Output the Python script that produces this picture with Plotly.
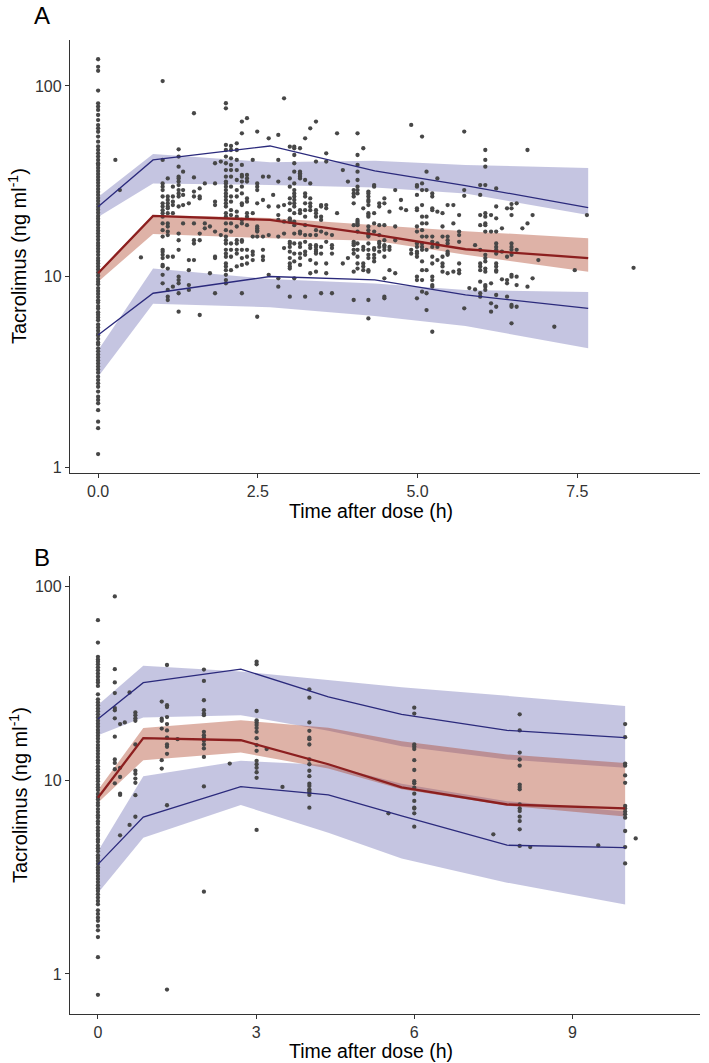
import plotly.graph_objects as go

# ---------------- Panel A: VPC summary ----------------
a_bin_time = [0, 0.86, 2.69, 4.33, 5.75, 7.67]
a_p95 = [23.2, 40.9, 48.4, 35.8, 30.0, 23.0]
a_p50 = [10.4, 20.8, 19.8, 16.6, 13.9, 12.5]
a_p05 = [4.93, 8.17, 10.0, 9.6, 8.0, 6.8]
a_p95_ci_lo = [20.5, 30.8, 30.2, 29.3, 27.3, 21.0]
a_p95_ci_hi = [26.1, 44.0, 39.8, 40.5, 38.5, 37.1]
a_p50_ci_lo = [9.4, 16.7, 15.9, 15.4, 13.0, 10.6]
a_p50_ci_hi = [10.6, 21.0, 20.3, 18.6, 17.3, 15.9]
a_p05_ci_lo = [2.98, 7.2, 6.9, 6.2, 5.5, 4.2]
a_p05_ci_hi = [4.1, 11.0, 9.7, 9.2, 8.5, 8.3]

# Panel A observations, grouped by sampling time
a_obs_time = [0, 0.27, 0.34, 0.67, 1.01, 1.09, 1.17, 1.26, 1.33, 1.42, 1.5, 1.59, 1.67, 1.75,
              1.83, 1.92, 2.0, 2.08, 2.17, 2.25, 2.33, 2.42, 2.49, 2.58, 2.67, 2.74, 2.82,
              2.91, 3.0, 3.07, 3.16, 3.24, 3.32, 3.41, 3.49, 3.57, 3.66, 3.74, 3.83, 3.91,
              4.0, 4.06, 4.15, 4.23, 4.32, 4.4, 4.48, 4.56, 4.65, 4.74, 4.82, 4.9, 4.99,
              5.07, 5.14, 5.23, 5.31, 5.39, 5.47, 5.56, 5.65, 5.73, 5.81, 5.9, 5.98, 6.06,
              6.15, 6.23, 6.32, 6.4, 6.47, 6.55, 6.64, 6.72, 6.8, 6.89, 7.14, 7.46, 7.65, 8.38]
a_obs_conc = [
    [138, 126, 120, 94.5, 81, 77.9, 74.8, 70.4, 66.2, 62.3, 59.9, 57.5, 54.2, 51, 48.1, 46.1,
     44.3, 42.6, 40.9, 39.3,
     38.5, 37.1, 35.8, 34.5, 33.3, 32.1, 31.0, 29.9, 28.8, 27.8, 26.8, 25.8, 24.9, 24.0, 23.2,
     22.4, 21.6, 20.8, 20.1, 19.4, 18.7, 18.0, 17.4, 16.8, 16.2, 15.6, 15.0, 14.5, 14.0, 13.5,
     13.0, 12.5, 12.1, 11.7, 11.3, 10.9, 10.5, 10.1, 9.7, 9.4, 9.1, 8.7, 8.4, 8.1, 7.8, 7.5,
     7.3, 7.0, 6.8, 6.5, 6.3, 6.1, 5.9, 5.6, 5.4, 5.2, 5.0, 4.9, 4.7, 4.5, 4.4, 4.2, 4.05,
     3.9, 3.76, 3.63, 3.5, 3.37, 3.25, 3.13,
     2.98, 2.86, 2.75, 2.64, 2.49, 2.34, 2.25, 2.16, 1.99, 1.73, 1.6, 1.17],
    [40.9],
    [28.4],
    [12.6],
    [106, 40.9, 30.8, 29.6, 28.4, 26.3, 24.2, 23.3, 22.3, 21.5, 20.6, 19.0, 17.5, 16.2, 13.8,
     13.5, 13.0, 12.5, 11.5, 11.3, 10.2, 9.21],
    [32.7, 26.3, 25.2, 24.2, 23.3, 22.8, 21.5, 19.0, 18.3, 17.2, 16.5, 12.7, 11.0, 8.50, 7.84, 7.53],
    [29.6, 26.3, 24.7, 23.7, 21.5, 12.7, 8.84],
    [46.5, 42.6, 37.7, 33.4, 32.7, 31.5, 30.2, 28.4, 27.3, 26.3, 23.3, 16.8, 15.5, 13.8, 9.98,
     9.58, 9.21, 8.17, 6.54],
    [35.5, 28.4, 26.8, 23.7, 19.0],
    [24.2, 12.2, 10.8, 9.02, 8.50],
    [71.9, 33.1, 27.9, 26.3, 19.0, 15.5, 14.9, 12.2],
    [29.0, 26.3, 25.7, 16.8, 15.5, 6.28],
    [30.8, 19.0, 17.9],
    [18.3, 10.4],
    [39.3, 30.8, 24.7, 23.7, 17.2, 12.7, 12.5, 8.17],
    [40.1, 16.5],
    [81.1, 76.3, 49.0, 46.1, 42.6, 39.3, 36.2, 33.4, 31.5, 30.8, 29.6, 28.4, 27.3, 26.3, 25.2,
     24.2, 23.3, 21.5, 20.6, 19.0, 17.5, 16.2, 15.5, 14.9, 13.8, 13.2, 12.7, 11.7, 11.3, 10.8,
     10.2, 9.58, 9.21],
    [48.4, 46.1, 41.7, 38.5, 36.2, 33.4, 29.6, 26.3, 24.7, 22.3, 21.0, 19.0, 17.2, 14.9, 13.8,
     12.7, 10.8],
    [50.0, 46.1, 40.9, 36.2, 32.1, 28.4, 26.3, 21.9, 20.6, 18.3, 15.5, 14.9, 13.8, 13.2, 11.3],
    [65.0, 56.4, 38.5, 34.1, 33.4, 31.5, 29.6, 27.3, 24.2, 23.7, 19.8, 19.0, 15.5, 15.2, 13.8,
     12.5, 11.5, 8.17],
    [67.7, 34.1, 32.7, 31.5, 25.7, 24.7, 21.5, 20.6, 18.6, 13.8, 12.7, 11.7],
    [40.9, 21.5, 16.2, 13.5, 13.0, 12.2],
    [57.6, 30.8, 29.6, 28.4, 24.2, 18.3, 17.9, 17.5, 17.2, 16.2, 6.15],
    [33.4, 25.2, 16.2, 13.8, 12.7, 12.2],
    [53.1, 33.4, 23.3, 16.5, 10.2],
    [26.8],
    [55.3, 40.9, 31.5, 23.3, 21.0, 19.8, 16.2, 9.78, 8.84],
    [86.1, 23.7, 19.4, 16.8, 14.1],
    [48.0, 32.7, 29.6, 25.7, 24.2, 22.3, 20.2, 19.8, 19.4, 15.2, 14.9, 14.3, 13.5, 12.5, 11.7,
     11.3, 11.0, 7.84],
    [48.0, 47.1, 43.4, 39.3, 35.5, 30.8, 28.4, 27.3, 26.3, 25.2, 24.2, 23.3, 21.5, 19.4, 18.6,
     16.8, 14.9, 13.2, 12.0, 9.78],
    [47.1, 35.5, 34.8, 34.1, 33.4, 32.7, 22.3, 21.5, 17.2, 16.8, 14.9, 14.3, 13.2, 12.5, 11.5],
    [53.1, 32.1, 27.3, 26.3, 24.2, 22.3, 20.6, 18.6, 16.5, 15.2, 13.5, 13.0, 7.84],
    [59.9, 30.8, 25.7, 24.2, 23.3, 22.3, 16.5, 14.6, 14.1, 12.2, 10.4],
    [65.0, 40.1, 22.3, 21.5, 20.6, 17.5, 16.5, 14.6, 14.3, 13.8, 13.5, 13.2, 11.7, 10.6],
    [23.7, 23.3, 20.6, 19.8, 17.2, 14.3, 13.2, 8.17],
    [44.3, 40.1, 23.7, 22.8, 16.8, 15.2, 11.7, 10.4],
    [16.5, 14.6, 14.1, 13.2, 8.17],
    [56.4, 21.5],
    [36.2, 11.7],
    [31.5, 12.5],
    [28.4, 27.3, 26.3, 24.2, 18.6, 15.2, 14.9, 14.6, 13.8, 13.2, 10.6, 7.53],
    [56.4, 43.4, 38.5, 35.5, 32.1, 29.6, 28.4, 27.3, 19.8, 19.4, 19.0, 18.6, 17.2, 14.9, 13.8,
     12.7, 11.7, 11.0],
    [47.1, 22.8, 14.3, 13.8, 11.7, 11.3, 10.8],
    [27.9, 27.3, 26.3, 25.2, 24.7, 23.7, 21.5, 21.0, 20.6, 18.3, 17.5, 16.8, 16.5, 16.2, 14.9,
     13.8, 13.0, 12.5, 10.8, 10.6, 7.53, 6.03],
    [30.2, 29.6, 21.5, 19.0, 17.2, 14.1, 13.8, 13.0, 12.5, 12.0],
    [24.2, 23.3, 18.6, 16.5, 15.2, 14.9, 14.3, 13.5],
    [25.7, 24.2, 18.6, 15.5, 14.6, 14.3, 13.8, 12.7, 9.78, 7.84, 7.68],
    [21.9, 14.3, 13.8, 10.8],
    [28.4, 18.3, 15.5, 10.4],
    [25.2, 22.8],
    [22.3],
    [62.4, 13.8, 13.2],
    [30.2, 29.6, 26.8, 22.8, 22.3, 18.3, 17.2, 14.9, 14.3, 13.5, 13.2, 12.7, 9.98, 9.58, 7.68],
    [54.2, 30.8, 28.4, 23.7, 20.6, 19.0, 17.5, 16.2, 14.9, 14.3, 13.8, 12.0, 10.8, 9.58, 8.33],
    [35.5, 28.4, 20.6, 19.0, 16.2, 13.8, 10.8, 8.17, 6.67],
    [27.3, 26.3, 22.8, 22.3, 16.2, 15.2, 14.3, 12.7, 11.7, 9.98, 9.58, 9.02, 8.84, 5.13],
    [32.7, 21.9, 14.9, 14.3, 12.2],
    [21.5, 18.3, 16.2, 12.7, 11.7, 11.3, 10.6],
    [23.7, 16.2, 15.5, 14.9, 13.5, 13.2, 13.0, 10.4],
    [23.7, 19.0, 10.6],
    [21.0, 17.2, 16.5, 15.2, 11.7, 10.8, 10.4],
    [57.6, 28.4, 26.5, 6.81],
    [8.7],
    [14.6, 8.56],
    [30.2, 26.8, 21.0, 18.6, 13.8, 11.7, 11.3, 10.8, 9.39, 8.17, 7.84],
    [46.1, 40.9, 37.7, 30.2, 21.5, 20.6, 19.0, 18.6, 17.2, 13.0, 12.5, 12.0, 11.0, 10.6, 9.02,
     8.84, 8.50],
    [21.0, 17.2, 9.21, 7.23, 6.54],
    [29.0, 23.3, 20.2, 17.2, 14.9, 14.3, 13.8, 13.2, 11.7, 11.3, 10.8, 10.6, 8.00, 6.94],
    [17.9, 13.5, 9.66],
    [22.8, 12.7, 9.58, 9.21, 7.84],
    [24.0, 22.8, 21.0, 14.9, 14.3, 13.8, 13.0, 10.2, 9.98, 7.09, 6.94, 5.68],
    [24.2, 13.8, 9.98, 9.02, 6.94],
    [17.9],
    [46.1, 19.0, 8.84],
    [21.0, 9.78],
    [12.2],
    [5.45],
    [10.8],
    [21.0],
    [11.1],
]

# ---------------- Panel B: VPC summary ----------------
b_bin_time = [0, 0.86, 2.71, 4.37, 5.76, 7.76, 10.0]
b_p95 = [20.7, 31.9, 37.5, 27.0, 21.9, 18.1, 16.6]
b_p50 = [8.13, 16.5, 16.1, 12.1, 9.2, 7.5, 7.16]
b_p05 = [3.68, 6.46, 9.27, 8.4, 6.55, 4.62, 4.49]
b_p95_ci_lo = [17.1, 21.1, 21.7, 18.0, 15.0, 12.8, 11.6]
b_p95_ci_hi = [24.5, 39.0, 36.5, 33.0, 30.2, 27.3, 24.2]
b_p50_ci_lo = [7.66, 12.7, 13.9, 11.5, 9.0, 7.4, 6.5]
b_p50_ci_hi = [8.9, 18.6, 20.4, 18.7, 15.9, 13.6, 12.3]
b_p05_ci_lo = [2.62, 5.05, 7.45, 5.36, 3.95, 2.96, 2.28]
b_p05_ci_hi = [4.3, 10.5, 12.6, 12.0, 9.6, 7.8, 6.9]

b_obs_time = [0, 0.32, 0.42, 0.51, 0.6, 0.71, 1.21, 1.31, 1.51, 2.01, 2.5, 3.01, 3.2, 3.5,
              4.01, 5.51, 6.0, 7.5, 8.0, 8.2, 9.49, 10.0, 10.2]
b_obs_conc = [
    [67.1, 51.4, 43.4, 42.0, 41.0, 39.7, 38.3, 37.0, 35.6, 34.3, 33.0, 32.0, 30.7, 27.8,
     26.2, 25.3, 24.4, 23.5, 22.7, 21.9, 21.1, 20.3, 19.6, 18.9, 18.2, 17.6, 17.0, 16.4, 15.8,
     15.2, 14.7, 14.2, 13.7, 13.2, 12.7, 12.3, 11.8, 11.4, 11.0, 10.6, 10.2, 9.9, 9.5, 9.2,
     8.9, 8.5, 8.2, 7.95, 7.65, 7.4, 7.1, 6.85, 6.6, 6.4, 6.15, 5.95, 5.7, 5.5, 5.3, 5.15,
     4.95, 4.8, 4.6, 4.45, 4.3, 4.1, 3.97, 3.83, 3.7, 3.56, 3.44, 3.32, 3.2, 3.09, 2.98,
     2.87, 2.77, 2.68,
     2.58, 2.48, 2.38, 2.29, 2.13, 2.04, 1.95, 1.88, 1.77, 1.68, 1.55, 1.22, 0.78],
    [89, 37.5, 32.0, 28.2, 23.6, 23.0, 20.9, 16.8, 12.8, 12.3, 11.4, 9.65],
    [19.5, 11.6, 10.4, 8.53, 8.40, 5.20],
    [19.9],
    [28.4, 5.88],
    [22.4, 21.7, 20.9, 20.3, 15.3, 11.2, 10.8, 10.2, 9.7, 8.38, 6.48],
    [25.5, 20.8, 20.3, 18.5, 12.7, 11.5],
    [39.4, 24.4, 23.9, 21.2, 19.5, 18.1, 16.6, 15.3, 14.9, 13.7, 7.43, 0.83],
    [16.3],
    [37.3, 32.6, 25.9, 23.0, 22.1, 21.7, 17.8, 17.1, 16.6, 16.0, 15.3, 14.6, 13.2, 9.3, 2.66],
    [12.2],
    [41.0, 39.7, 22.8, 20.4, 19.9, 19.3, 18.6, 17.8, 16.5, 15.2, 14.2, 12.6, 12.1, 11.6, 11.0,
     10.3, 5.54],
    [14.5],
    [9.24],
    [29.5, 26.7, 19.9, 18.0, 16.6, 16.3, 15.3, 12.8, 12.1, 11.2, 10.5, 9.6, 9.35, 8.98, 8.81,
     8.64, 8.40, 7.22],
    [6.75],
    [23.7, 22.1, 15.3, 14.9, 14.5, 12.7, 11.3, 9.9, 9.65, 9.16, 8.53, 7.82, 7.22, 7.14, 6.75, 5.76],
    [5.26],
    [21.9, 18.1, 13.9, 12.8, 11.9, 9.5, 9.24, 8.98, 7.51, 7.16, 6.94, 6.49, 6.16, 5.58, 4.58],
    [4.52],
    [4.61],
    [19.5, 16.7, 12.2, 11.9, 10.6, 9.7, 7.37, 7.16, 6.89, 6.67, 6.41, 5.47, 4.52, 3.72],
    [5.01],
]

a_x_ticks = [0, 2.5, 5, 7.5]
a_x_ticklabels = ["0.0", "2.5", "5.0", "7.5"]
b_x_ticks = [0, 3, 6, 9]
b_x_ticklabels = ["0", "3", "6", "9"]
y_ticks = [1, 10, 100]
y_ticklabels = ["1", "10", "100"]

BLUE_LINE = "#2b2a7c"
RED_LINE = "#8c1f1f"
BLUE_BAND = "rgba(55,55,150,0.29)"
RED_BAND = "rgba(172,62,36,0.40)"
POINT = "#474747"
FONT = "Liberation Sans, Arial, sans-serif"

fig = go.Figure()


def add_panel(xa, ya, bt, p95, p50, p05, c95, c50, c05, obs_t, obs_c):
    for lo, hi, col in [(c95[0], c95[1], BLUE_BAND), (c05[0], c05[1], BLUE_BAND),
                        (c50[0], c50[1], RED_BAND)]:
        fig.add_trace(go.Scatter(x=bt + bt[::-1], y=hi + lo[::-1], fill="toself",
                                 fillcolor=col, line=dict(width=0), mode="lines",
                                 hoverinfo="skip", showlegend=False, xaxis=xa, yaxis=ya))
    xs, ys = [], []
    for t, vals in zip(obs_t, obs_c):
        xs += [t] * len(vals)
        ys += vals
    fig.add_trace(go.Scatter(x=xs, y=ys, mode="markers",
                             marker=dict(size=4.3, color=POINT, line=dict(width=0)),
                             showlegend=False, xaxis=xa, yaxis=ya))
    for vals, col, w in [(p95, BLUE_LINE, 1.3), (p05, BLUE_LINE, 1.3), (p50, RED_LINE, 2.3)]:
        fig.add_trace(go.Scatter(x=bt, y=vals, mode="lines", line=dict(color=col, width=w),
                                 showlegend=False, xaxis=xa, yaxis=ya))


add_panel("x", "y", a_bin_time, a_p95, a_p50, a_p05,
          (a_p95_ci_lo, a_p95_ci_hi), (a_p50_ci_lo, a_p50_ci_hi), (a_p05_ci_lo, a_p05_ci_hi),
          a_obs_time, a_obs_conc)
add_panel("x2", "y2", b_bin_time, b_p95, b_p50, b_p05,
          (b_p95_ci_lo, b_p95_ci_hi), (b_p50_ci_lo, b_p50_ci_hi), (b_p05_ci_lo, b_p05_ci_hi),
          b_obs_time, b_obs_conc)

W, H = 709, 1063
xdom = [70 / W, 700 / W]
axis_common = dict(showline=True, linecolor="#333333", linewidth=1.3, ticks="outside",
                   ticklen=4, tickcolor="#333333", tickwidth=1.1, showgrid=False, zeroline=False,
                   automargin=False,
                   tickfont=dict(family=FONT, size=16, color="#333333"))

fig.update_layout(
    width=W, height=H, margin=dict(l=0, r=0, t=0, b=0, autoexpand=False),
    plot_bgcolor="white", paper_bgcolor="white", font=dict(family=FONT),
    xaxis=dict(domain=xdom, range=[-0.44, 9.42], tickvals=a_x_ticks, ticktext=a_x_ticklabels,
               anchor="y", **axis_common),
    yaxis=dict(domain=[1 - 473 / H, 1 - 40 / H], type="log", range=[-0.031, 2.241],
               tickvals=y_ticks, ticktext=y_ticklabels, anchor="x", **axis_common),
    xaxis2=dict(domain=xdom, range=[-0.53, 11.42], tickvals=b_x_ticks, ticktext=b_x_ticklabels,
                anchor="y2", **axis_common),
    yaxis2=dict(domain=[1 - 1014 / H, 1 - 576 / H], type="log", range=[-0.207, 2.055],
                tickvals=y_ticks, ticktext=y_ticklabels, anchor="x2", **axis_common),
)

ann = []
for txt, y in [("A", 16), ("B", 557)]:
    ann.append(dict(text=txt, x=32 / W, y=1 - y / H, xref="paper", yref="paper",
                    xanchor="left", yanchor="middle", showarrow=False,
                    font=dict(family=FONT, size=24, color="black")))
for y in [511, 1051]:
    ann.append(dict(text="Time after dose (h)", x=371 / W, y=1 - y / H, xref="paper",
                    yref="paper", xanchor="center", yanchor="middle", showarrow=False,
                    font=dict(family=FONT, size=19.5, color="black")))
for y in [256, 795]:
    ann.append(dict(text="Tacrolimus (ng ml<sup>-1</sup>)", x=18 / W, y=1 - y / H,
                    xref="paper", yref="paper", xanchor="center", yanchor="middle",
                    textangle=-90, showarrow=False,
                    font=dict(family=FONT, size=20, color="black")))
fig.update_layout(annotations=ann)

fig.write_html("out.html", config={"displayModeBar": False},
               post_script="document.body.style.margin='0px';"
                           "document.body.style.overflow='hidden';")
